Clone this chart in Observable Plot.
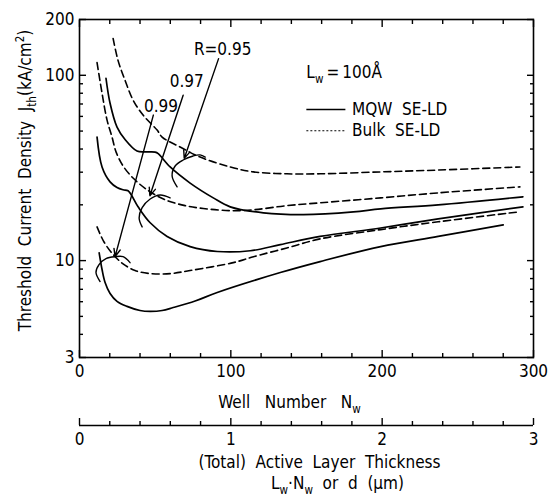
<!DOCTYPE html>
<html><head><meta charset="utf-8">
<script src="https://cdn.jsdelivr.net/npm/d3@7"></script>
<script src="https://cdn.jsdelivr.net/npm/@observablehq/plot@0.6"></script>
<style>
html,body{margin:0;padding:0;background:#fff;}
svg{display:block;}
</style></head><body><div id="chart"></div>
<script>
const FONT = '"DejaVu Sans Condensed","DejaVu Sans",sans-serif';
const FS = 17;

// ---- data: well number Nw vs threshold current density (kA/cm^2) ----
// MQW SE-LD (solid)
const nwMQW95 = [17.5, 20.2, 24.8, 30.1, 38, 44, 50, 52, 59.9, 73.1, 88.4, 99.6, 121.5, 148, 181, 199, 237, 293];
const jMQW95  = [96.4, 70.6, 52.5, 45, 39, 38.6, 38.5, 37.8, 32, 26.2, 21.8, 19.5, 18.1, 17.7, 18.3, 19, 20, 22.1];
const nwMQW97 = [11.6, 14.9, 20.2, 24.8, 28.8, 32.1, 38.7, 46.7, 57.9, 73.1, 91, 112.8, 132.7, 159, 199, 237, 293];
const jMQW97  = [46.4, 32, 26.6, 24.8, 24.1, 23.8, 19.5, 16, 13.5, 11.9, 11.2, 11.3, 12.2, 13.5, 15, 16.8, 19.5];
const nwMQW99 = [13, 14.9, 16.9, 20.2, 24.8, 31.4, 40, 46.7, 54.6, 61.9, 76.4, 91, 132.7, 159, 199, 237, 280];
const jMQW99  = [11, 8.95, 7.62, 6.65, 6.03, 5.66, 5.38, 5.32, 5.38, 5.58, 6.05, 6.73, 8.62, 9.88, 11.9, 13.5, 15.6];
// Bulk SE-LD (dashed)
const nwBulk95 = [22.2, 25.5, 30.1, 35.4, 42, 51.3, 54.6, 66.5, 79.7, 99.6, 115, 137, 159, 199, 237, 291];
const jBulk95  = [158, 120, 94, 73.5, 61, 50.6, 46.4, 41, 36.2, 32, 30.1, 29.4, 29.4, 30.1, 30.8, 32];
const nwBulk97 = [11.6, 14.9, 18.2, 21.5, 24.2, 28.8, 35.4, 44.7, 56.6, 69.8, 84.4, 99.6, 115, 137, 159, 199, 237, 291];
const jBulk97  = [117, 80, 57.3, 46.4, 38.5, 32.4, 27.9, 24.1, 21.3, 19.8, 19, 18.6, 18.8, 19.8, 20.5, 21.8, 23.2, 25];
const nwBulk99 = [11.6, 16.2, 22.2, 28.8, 36.7, 46.7, 59.9, 73.1, 101.6, 115, 137, 159, 199, 237, 290];
const jBulk99  = [15.2, 12.6, 10.8, 9.6, 8.84, 8.51, 8.51, 8.84, 9.75, 10.5, 11.7, 13.1, 14.7, 16.2, 18.3];

// reflectivity annotations
const rLabels = ["R=0.95", "0.97", "0.99"];
const rLabelX = [94.6, 70.9, 53.8];
const rLabelY = [138, 92.1, 67.6];
const arrowFromX = [91.9, 68.5, 48.8];
const arrowFromY = [123, 78, 61];
const arrowToX = [69.2, 46.5, 23.5];
const arrowToY = [35.6, 22.4, 10.5];
// curl marks linking each MQW/Bulk pair
const curl95X = [64.5, 61.2, 63.2, 68.5, 75.1, 79.7, 83.1];
const curl95Y = [25.0, 28.6, 32.4, 34.9, 36.7, 37.2, 36.2];
const curl97X = [41.4, 39.4, 41.4, 46.7, 53.3, 59.9];
const curl97Y = [15.2, 17.0, 19.3, 21.5, 22.6, 21.8];
const curl99X = [13.6, 10.9, 12.9, 17.5, 23.5, 28.8, 33.4];
const curl99Y = [7.71, 8.62, 9.52, 10.25, 10.5, 10.5, 9.75];

// legend
const legendNote = "L_{w}\u2009=\u2009100Å";
const legendNames = ["MQW\u00a0\u00a0SE-LD", "Bulk\u00a0\u00a0SE-LD"];
const legendY = [65.4, 50.2];
const legendNoteY = 103;
const legendX1 = 149.9, legendX2 = 175.7, legendTextX = 180.1;

// axes
const xMajor = [0, 100, 200, 300];
const xMinor = [20, 40, 60, 80, 120, 140, 160, 180, 220, 240, 260, 280];
const yMajor = [3, 10, 100, 200];
const yMinor = [4, 5, 6, 7, 8, 9, 20, 30, 40, 50, 60, 70, 80, 90];
const dMajor = [0, 1, 2, 3];
const dMinor = [0.2, 0.4, 0.6, 0.8, 1.2, 1.4, 1.6, 1.8, 2.2, 2.4, 2.6, 2.8];
const yTitle = "Threshold\u00a0\u00a0Current\u00a0\u00a0Density\u00a0\u00a0J_{th}(kA/cm^{2})";
const xTitle = "Well\u00a0\u00a0\u00a0Number\u00a0\u00a0\u00a0N_{w}";
const dTitle1 = "(Total)\u00a0\u00a0Active\u00a0\u00a0Layer\u00a0\u00a0Thickness";
const dTitle2 = "L_{w}·N_{w}\u00a0\u00a0or\u00a0\u00a0d\u00a0\u00a0(μm)";

const rows = (xs, ys, key) => xs.map((x, i) => ({x, y: ys[i], key}));
const mqw = [...rows(nwMQW95, jMQW95, "0.95"), ...rows(nwMQW97, jMQW97, "0.97"), ...rows(nwMQW99, jMQW99, "0.99")];
const bulk = [...rows(nwBulk95, jBulk95, "0.95"), ...rows(nwBulk97, jBulk97, "0.97"), ...rows(nwBulk99, jBulk99, "0.99")];
const curls = [...rows(curl95X, curl95Y, "0.95"), ...rows(curl97X, curl97Y, "0.97"), ...rows(curl99X, curl99Y, "0.99")];
const arrows = arrowFromX.map((x, i) => ({x1: x, y1: arrowFromY[i], x2: arrowToX[i], y2: arrowToY[i]}));
const labels = rLabels.map((t, i) => ({t, x: rLabelX[i], y: rLabelY[i]}));
const legend = legendNames.map((t, i) => ({t, y: legendY[i]}));

const style = {fontFamily: FONT, fontSize: FS + "px", color: "black", background: "white", overflow: "visible"};
const blank = () => "";

const main = Plot.plot({
  width: 549, height: 414,
  marginTop: 19, marginBottom: 57, marginLeft: 79, marginRight: 16,
  style,
  x: {domain: [0, 300], label: null},
  y: {type: "log", domain: [3, 200], label: null},
  marks: [
    Plot.frame({stroke: "black", strokeWidth: 1.6}),
    Plot.axisX(xMajor, {anchor: "bottom", tickSize: -7, tickPadding: 14, tickFormat: d => String(d), strokeWidth: 1.4, label: null, fontSize: FS}),
    Plot.axisX(xMinor, {anchor: "bottom", tickSize: -4, tickFormat: blank, strokeWidth: 1.4, label: null}),
    Plot.axisX(xMajor, {anchor: "top", tickSize: -7, tickFormat: blank, strokeWidth: 1.4, label: null}),
    Plot.axisX(xMinor, {anchor: "top", tickSize: -4, tickFormat: blank, strokeWidth: 1.4, label: null}),
    Plot.axisY(yMajor, {anchor: "left", tickSize: -7, tickPadding: 12, tickFormat: d => String(d), strokeWidth: 1.4, label: null, fontSize: FS}),
    Plot.axisY(yMinor, {anchor: "left", tickSize: -4, tickFormat: blank, strokeWidth: 1.4, label: null}),
    Plot.axisY(yMajor, {anchor: "right", tickSize: -7, tickFormat: blank, strokeWidth: 1.4, label: null}),
    Plot.axisY(yMinor, {anchor: "right", tickSize: -4, tickFormat: blank, strokeWidth: 1.4, label: null}),
    Plot.line(mqw, {x: "x", y: "y", z: "key", stroke: "black", strokeWidth: 1.7, curve: "catmull-rom"}),
    Plot.line(bulk, {x: "x", y: "y", z: "key", stroke: "black", strokeWidth: 1.6, strokeDasharray: "7,4", curve: "catmull-rom"}),
    Plot.line(curls, {x: "x", y: "y", z: "key", stroke: "black", strokeWidth: 1.4, curve: "catmull-rom"}),
    Plot.arrow(arrows, {x1: "x1", y1: "y1", x2: "x2", y2: "y2", stroke: "black", strokeWidth: 1.4, headLength: 9, headAngle: 45}),
    Plot.text(labels, {x: "x", y: "y", text: "t", fontSize: FS}),
    Plot.text([legendNote], {x: legendX1, y: legendNoteY, text: d => d, textAnchor: "start", fontSize: FS}),
    Plot.link(legend.slice(0, 1), {x1: legendX1, x2: legendX2, y1: "y", y2: "y", stroke: "black", strokeWidth: 1.6}),
    Plot.link(legend.slice(1), {x1: legendX1, x2: legendX2, y1: "y", y2: "y", stroke: "black", strokeWidth: 1.2, strokeDasharray: "2,2"}),
    Plot.text(legend, {x: legendTextX, y: "y", text: "t", textAnchor: "start", fontSize: FS}),
    Plot.text([yTitle], {frameAnchor: "left", rotate: -90, dx: -54, dy: -8, textAnchor: "middle", lineAnchor: "middle", fontSize: FS}),
    Plot.text([xTitle], {frameAnchor: "bottom", dx: -17, dy: 45, textAnchor: "middle", lineAnchor: "middle", fontSize: FS})
  ]
});

const second = Plot.plot({
  width: 549, height: 85,
  marginTop: 0, marginBottom: 74, marginLeft: 79, marginRight: 16,
  style,
  x: {domain: [0, 3], label: null},
  y: {domain: [0, 1], label: null, axis: null},
  marks: [
    Plot.ruleY([0], {stroke: "black", strokeWidth: 1.6}),
    Plot.axisX(dMajor, {anchor: "bottom", tickSize: -7, tickPadding: 14, tickFormat: d => String(d), strokeWidth: 1.4, label: null, fontSize: FS}),
    Plot.axisX(dMinor, {anchor: "bottom", tickSize: -4, tickFormat: blank, strokeWidth: 1.4, label: null}),
    Plot.text([dTitle1], {frameAnchor: "bottom", dx: 13, dy: 37, textAnchor: "middle", lineAnchor: "middle", fontSize: FS}),
    Plot.text([dTitle2], {frameAnchor: "bottom", dx: 31, dy: 58, textAnchor: "middle", lineAnchor: "middle", fontSize: FS})
  ]
});

function richText(svg, fs) {
  d3.select(svg).selectAll("text").each(function () {
    const el = this;
    const s = el.textContent;
    if (!/[_^]\{/.test(s)) return;
    const parts = [];
    const re = /([_^])\{([^}]*)\}/g;
    let last = 0, m;
    while ((m = re.exec(s))) {
      if (m.index > last) parts.push({t: s.slice(last, m.index), k: ""});
      parts.push({t: m[2], k: m[1]});
      last = re.lastIndex;
    }
    if (last < s.length) parts.push({t: s.slice(last), k: ""});
    while (el.firstChild) el.removeChild(el.firstChild);
    let shift = 0;
    for (const p of parts) {
      const ts = document.createElementNS("http://www.w3.org/2000/svg", "tspan");
      const target = p.k === "_" ? 0.28 * fs : p.k === "^" ? -0.4 * fs : 0;
      if (target !== shift) ts.setAttribute("dy", target - shift);
      shift = target;
      if (p.k) ts.setAttribute("font-size", 0.68 * fs);
      ts.textContent = p.t;
      el.appendChild(ts);
    }
  });
}
richText(main, FS);
richText(second, FS);
const host = document.getElementById("chart");
host.appendChild(main);
host.appendChild(second);
</script></body></html>
